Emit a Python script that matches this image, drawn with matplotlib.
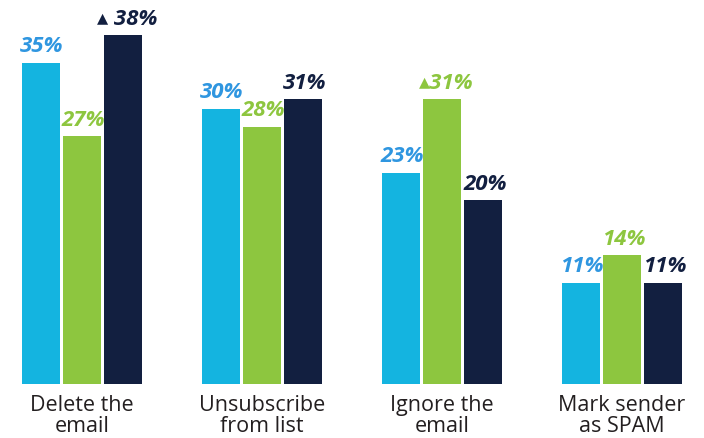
import numpy as np
import matplotlib
matplotlib.use('Agg')
from matplotlib import pyplot as plt

# reading off the picture
categories = ['Delete the\nemail', 'Unsubscribe\nfrom list', 'Ignore the\nemail', 'Mark sender\nas SPAM']
series_a = [35, 30, 23, 11]
series_b = [27, 28, 31, 14]
series_c = [38, 31, 20, 11]
up_marks = [(2, 0), (1, 2)]  # (series index, category index) that get a triangle

bar_colors = ['#14b4e0', '#8dc63f', '#121f40']
text_colors = ['#2f96e0', '#8dc63f', '#121f40']
fonts = ['Open Sans', 'DejaVu Sans']

fig = plt.figure(figsize=(7.04, 4.38), dpi=100)
ax = fig.add_axes([0, 0, 1, 1])

x = np.arange(len(categories))
width = 0.211
pitch = 0.23
for i, vals in enumerate([series_a, series_b, series_c]):
	xs = x + (i - 1) * pitch
	ax.bar(xs, vals, width=width, color=bar_colors[i])
	for j, (xx, v) in enumerate(zip(xs, vals)):
		label = '{}%'.format(v)
		dx = 1
		if (i, j) in up_marks:
			label = '\u25b4 ' + label if i == 2 else '\u25b4' + label
			dx = 3
		ax.annotate(label, (xx, v), xytext=(dx, 4), textcoords='offset points',
			ha='center', va='bottom', color=text_colors[i], fontsize=16,
			fontweight='bold', fontstyle='italic', family=fonts)

for xx, c in zip(x, categories):
	ax.text(xx, -1.2, c, ha='center', va='top', fontsize=15.5, color='#231f20',
		family=fonts, linespacing=1.0)

ax.set_xlim(-82 / 180, (704 - 82) / 180)
ax.set_ylim(-54 / 9.18, 384 / 9.18)
ax.axis('off')

plt.savefig('out.png', dpi=100)
plt.close()
